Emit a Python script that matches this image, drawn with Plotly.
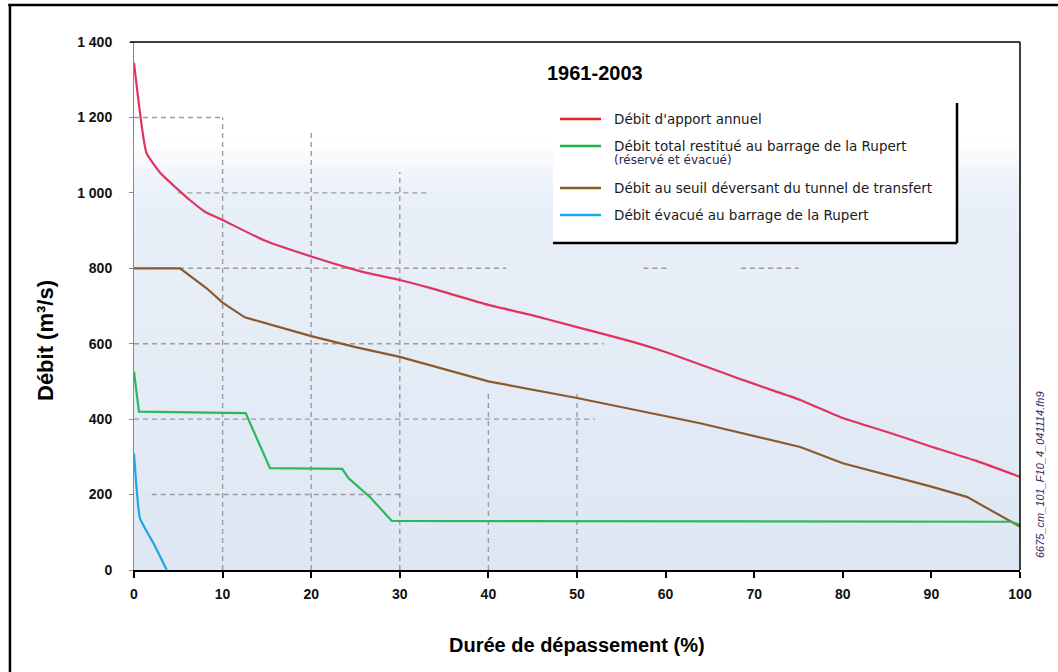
import plotly.graph_objects as go

# ---------------- data ----------------
series_names = [
    "Débit d'apport annuel",
    "Débit total restitué au barrage de la Rupert",
    "Débit au seuil déversant du tunnel de transfert",
    "Débit évacué au barrage de la Rupert",
]
legend_sub = "(réservé et évacué)"
period = "1961-2003"

apport_x = [0, 1.4, 3, 5, 6.3, 8, 10, 14.6, 20.2, 25.9, 30, 33.4, 40, 45, 50, 56.3, 60, 63.9, 68, 72, 75.2, 80, 85, 90, 95, 100]
apport_y = [1345, 1106, 1052, 1008, 981, 950, 928, 875, 830, 790, 769, 748, 703, 675, 644, 605, 578, 545, 510, 477, 451, 403, 366, 327, 290, 247]

restitue_x = [0, 0.56, 12.6, 15.35, 23.5, 24.2, 26.6, 29.1, 99, 100]
restitue_y = [526, 420, 416, 270, 268, 244, 194, 130, 128, 120]

seuil_x = [0, 5.2, 8.2, 10, 12.5, 15, 20, 25, 30, 40, 50, 63.9, 75.2, 80, 90, 94, 100]
seuil_y = [800, 800, 747, 709, 670, 653, 620, 591, 565, 500, 456, 389, 326, 283, 221, 194, 115]

evacue_x = [0, 0.68, 2.2, 3.7]
evacue_y = [309, 137, 71, 0]

x_ticks = [0, 10, 20, 30, 40, 50, 60, 70, 80, 90, 100]
y_ticks = [0, 200, 400, 600, 800, 1000, 1200, 1400]
y_ticktext = ["0", "200", "400", "600", "800", "1 000", "1 200", "1 400"]

x_title = "Durée de dépassement (%)"
y_title = "Débit (m³/s)"
file_tag = "6675_cm_101_F10_4_041114.fh9"

# ---------------- style ----------------
line_colors = ["#e0345c", "#2db85e", "#8a5a2b", "#1ea6e6"]
legend_colors = ["#e02424", "#22b14c", "#8b5a1e", "#1aa7e8"]
FONT = "Liberation Sans, Arial, sans-serif"
LFONT = "DejaVu Sans, Liberation Sans, sans-serif"

# partial dashed grid seen in the scanned original (decoration only)
grid_h = [(1200, 0, 10), (1000, 5, 33), (800, 0, 42), (800, 57.5, 60.5), (800, 68.5, 75),
          (600, 0, 53), (400, 0, 52), (200, 2, 30)]
grid_v = [(10, 0, 1200), (20, 0, 1160), (30, 0, 1055), (40, 0, 470), (50, 0, 470)]

fig = go.Figure()
for xs, ys, c, n, shp in [
    (apport_x, apport_y, line_colors[0], series_names[0], "spline"),
    (seuil_x, seuil_y, line_colors[2], series_names[2], "linear"),
    (restitue_x, restitue_y, line_colors[1], series_names[1], "linear"),
    (evacue_x, evacue_y, line_colors[3], series_names[3], "spline"),
]:
    fig.add_trace(go.Scatter(x=xs, y=ys, mode="lines", name=n,
                             line=dict(color=c, width=2.2, shape=shp, smoothing=0.4),
                             showlegend=False))

shapes = []
def mix(c1, c2, t):
    return "rgb(%d,%d,%d)" % tuple(round(a + (b - a) * t) for a, b in zip(c1, c2))

bottom_c = (222, 231, 243)
mid_c = (234, 240, 249)
top_c = (255, 255, 255)
nb = 24
for i in range(nb):
    y0 = 0.72 * i / nb
    y1 = 0.72 * (i + 1) / nb + 0.002
    shapes.append(dict(type="rect", xref="x domain", yref="y domain", x0=0, x1=1, y0=y0, y1=y1,
                       fillcolor=mix(bottom_c, mid_c, i / nb), line=dict(width=0), layer="below"))
nf = 10
for i in range(nf):
    y0 = 0.72 + 0.1 * i / nf
    y1 = 0.72 + 0.1 * (i + 1) / nf + 0.002
    shapes.append(dict(type="rect", xref="x domain", yref="y domain", x0=0, x1=1, y0=y0, y1=y1,
                       fillcolor=mix(mid_c, top_c, (i + 1) / nf), line=dict(width=0), layer="below"))

gstyle = dict(color="#9c9c9c", width=1.4, dash="5px,4px")
for yv, xa, xb in grid_h:
    shapes.append(dict(type="line", xref="x", yref="y", x0=xa, x1=xb, y0=yv, y1=yv,
                       line=gstyle, layer="below"))
for xv, ya, yb in grid_v:
    shapes.append(dict(type="line", xref="x", yref="y", x0=xv, x1=xv, y0=ya, y1=yb,
                       line=gstyle, layer="below"))

# plot frame top and right
shapes.append(dict(type="line", xref="paper", yref="paper", x0=-0.0045, x1=1.0, y0=1.0, y1=1.0,
                   line=dict(color="black", width=1.5)))
shapes.append(dict(type="line", xref="paper", yref="paper", x0=1.0, x1=1.0, y0=0, y1=1.0,
                   line=dict(color="black", width=1.5)))
# outer frame
shapes.append(dict(type="line", xref="paper", yref="paper", x0=-0.14, x1=-0.14, y0=-0.2, y1=1.0701,
                   line=dict(color="black", width=2.5)))
shapes.append(dict(type="line", xref="paper", yref="paper", x0=-0.142, x1=1.05, y0=1.0701, y1=1.0701,
                   line=dict(color="black", width=2.5)))

# legend box
lx0, lx1 = (553 - 134) / 886, (957 - 134) / 886
ly0, ly1 = (570 - 243) / 528, (570 - 103) / 528
shapes.append(dict(type="rect", xref="paper", yref="paper", x0=lx0, x1=lx1, y0=ly0, y1=ly1,
                   fillcolor="white", line=dict(width=0), layer="above"))
shapes.append(dict(type="line", xref="paper", yref="paper", x0=lx1, x1=lx1, y0=ly0, y1=ly1,
                   line=dict(color="black", width=2.5)))
shapes.append(dict(type="line", xref="paper", yref="paper", x0=lx0, x1=lx1, y0=ly0, y1=ly0,
                   line=dict(color="black", width=2.5)))

sx0, sx1 = (560 - 134) / 886, (601 - 134) / 886
tx = (612 - 134) / 886
ypix = [119, 146, 188, 215]
annotations = []
for name, c, yp in zip(series_names, legend_colors, ypix):
    yy = (570 - yp) / 528
    shapes.append(dict(type="line", xref="paper", yref="paper", x0=sx0, x1=sx1, y0=yy, y1=yy,
                       line=dict(color=c, width=2.5)))
    annotations.append(dict(text=name, xref="paper", yref="paper", x=tx, y=yy, xanchor="left",
                            yanchor="middle", showarrow=False,
                            font=dict(family=LFONT, size=13.5, color="#1a1a1a")))
annotations.append(dict(text=legend_sub, xref="paper", yref="paper", x=tx, y=(570 - 160) / 528,
                        xanchor="left", yanchor="middle", showarrow=False,
                        font=dict(family=LFONT, size=12, color="#2e2450")))
annotations.append(dict(text="<b>%s</b>" % period, xref="paper", yref="paper",
                        x=(595 - 134) / 886, y=(570 - 73) / 528, xanchor="center", yanchor="middle",
                        showarrow=False, font=dict(family=FONT, size=20, color="black")))
annotations.append(dict(text="<b>%s</b>" % x_title, xref="paper", yref="paper", x=0.5,
                        y=(570 - 645) / 528, xanchor="center", yanchor="middle", showarrow=False,
                        font=dict(family=FONT, size=20, color="black")))
annotations.append(dict(text="<b>%s</b>" % y_title, xref="paper", yref="paper",
                        x=(45 - 134) / 886, y=(570 - 341) / 528, xanchor="center", yanchor="middle",
                        textangle=-90, showarrow=False, font=dict(family=FONT, size=22, color="black")))
annotations.append(dict(text="<i>%s</i>" % file_tag, xref="paper", yref="paper",
                        x=(1040 - 134) / 886, y=(570 - 475) / 528, xanchor="center", yanchor="middle",
                        textangle=-90, showarrow=False, font=dict(family=FONT, size=11, color="#3a2a6a")))

fig.update_layout(
    width=1058, height=672,
    margin=dict(l=134, r=38, t=42, b=102),
    paper_bgcolor="white", plot_bgcolor="rgba(0,0,0,0)",
    shapes=shapes, annotations=annotations, showlegend=False,
    font=dict(family=FONT),
)
fig.update_xaxes(range=[0, 100], tickvals=x_ticks, ticktext=["<b>%d</b>" % v for v in x_ticks],
                 showline=True, linecolor="black", linewidth=2, ticks="outside", ticklen=6,
                 tickcolor="black", tickwidth=1.5, tickfont=dict(size=14, color="#111", family=FONT),
                 showgrid=False, zeroline=False, ticklabelstandoff=4)
fig.update_yaxes(range=[0, 1400], tickvals=y_ticks, ticktext=["<b>%s</b>" % t for t in y_ticktext],
                 showline=True, linecolor="#8a8a8a", linewidth=1, ticks="outside", ticklen=4,
                 tickcolor="#8a8a8a", tickfont=dict(size=14, color="#111", family=FONT),
                 showgrid=False, zeroline=False, ticklabelstandoff=14)

fig.write_html("out.html")
